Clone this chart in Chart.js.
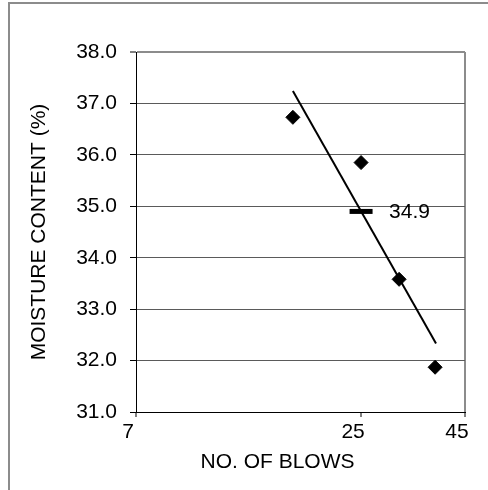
<!DOCTYPE html>
<html>
<head>
<meta charset="utf-8">
<script src="https://cdn.jsdelivr.net/npm/chart.js@4"></script>
<style>
  body { margin: 0; background: #fff; overflow: hidden; }
  #wrap { position: relative; width: 488px; height: 490px; }
  #frame { position: absolute; left: 8px; top: 2px; width: 520px; height: 520px;
           border-left: 2px solid #8c8c8c; border-top: 2px solid #8c8c8c; }
  canvas { position: absolute; left: 0; top: 0; }
</style>
</head>
<body>
<div id="wrap">
  <div id="frame"></div>
  <canvas id="chart"></canvas>
</div>
<script>
// datos
var blows = [17, 25, 31, 38];
var moisture = [36.73, 35.85, 33.58, 31.87];

// linea de tendencia (extremos)
var trendBlows = [17, 38.2];
var trendMoisture = [37.24, 32.33];

// punto a 25 golpes
var markerBlows = [25];
var markerMoisture = [34.9];

var xTicks = [7, 25, 45];
var yMin = 31, yMax = 38;

var xTitle = 'NO. OF BLOWS';
var yTitle = 'MOISTURE CONTENT (%)';

var fontFam = "'Liberation Sans', Arial, sans-serif";
var fontSize = 21;

function toPoints(xs, ys) {
    return xs.map(function (x, i) { return { x: x, y: ys[i] }; });
}

// etiqueta del punto a 25 golpes y titulo del eje x
var extraText = {
    id: 'extraText',
    afterDraw: function (chart) {
        var meta = chart.getDatasetMeta(0);
        var area = chart.chartArea;
        var ctx = chart.ctx;
        ctx.save();
        ctx.font = fontSize + 'px ' + fontFam;
        ctx.fillStyle = '#000';
        ctx.textAlign = 'left';
        ctx.textBaseline = 'middle';
        meta.data.forEach(function (el, i) {
            ctx.fillText(markerMoisture[i].toFixed(1), el.x + 28, el.y + 1);
        });
        // el titulo esta un poco corrido a la izquierda en el original
        ctx.textAlign = 'center';
        ctx.fillText(xTitle, area.left + (area.right - area.left) * 0.43, chart.height - 28);
        ctx.restore();
    }
};

var ctx = document.getElementById('chart');
var myChart = new Chart(ctx, {
    type: 'scatter',
    data: {
        datasets: [
            {
                label: 'marker',
                data: toPoints(markerBlows, markerMoisture),
                pointStyle: 'line',
                pointRadius: 11.5,
                pointBorderWidth: 5,
                borderColor: '#000',
                backgroundColor: '#000'
            },
            {
                label: 'trend',
                data: toPoints(trendBlows, trendMoisture),
                showLine: true,
                pointRadius: 0,
                borderColor: '#000',
                borderWidth: 2
            },
            {
                label: 'data',
                data: toPoints(blows, moisture),
                pointStyle: 'rectRot',
                pointRadius: 7,
                pointBorderWidth: 1,
                borderColor: '#000',
                backgroundColor: '#000'
            }
        ]
    },
    options: {
        responsive: true,
        maintainAspectRatio: false,
        animation: false,
        layout: { padding: { left: 0, top: 52, right: 23, bottom: 0 } },
        plugins: {
            legend: { display: false },
            tooltip: { enabled: false }
        },
        scales: {
            x: {
                type: 'logarithmic',
                min: 7,
                max: 45,
                afterBuildTicks: function (scale) {
                    scale.ticks = xTicks.map(function (v) { return { value: v }; });
                },
                afterFit: function (scale) { scale.height = 78; },
                ticks: {
                    color: '#000',
                    font: { size: fontSize, family: fontFam },
                    padding: 3,
                    labelOffset: -8,
                    maxRotation: 0,
                    autoSkip: false,
                    callback: function (value) { return String(value); }
                },
                grid: {
                    drawOnChartArea: true,
                    color: function (c) { return c.tick && c.tick.value === 45 ? '#8c8c8c' : 'rgba(0,0,0,0)'; },
                    lineWidth: 2,
                    tickColor: '#000',
                    tickLength: 5,
                    tickWidth: 1
                },
                border: { color: '#000', width: 1 },
                title: { display: false }
            },
            y: {
                min: yMin,
                max: yMax,
                afterFit: function (scale) { scale.width = 136; },
                ticks: {
                    stepSize: 1,
                    color: '#000',
                    font: { size: fontSize, family: fontFam },
                    padding: 13,
                    callback: function (value) { return value.toFixed(1); }
                },
                grid: {
                    color: function (c) { return c.tick && c.tick.value === yMax ? '#8c8c8c' : '#5a5a5a'; },
                    lineWidth: function (c) { return c.tick && c.tick.value === yMax ? 2 : 1; },
                    tickColor: '#000',
                    tickLength: 6,
                    tickWidth: 1
                },
                border: { color: '#000', width: 1 },
                title: {
                    display: true,
                    text: yTitle,
                    color: '#000',
                    font: { size: fontSize, family: fontFam },
                    padding: { top: 27, bottom: 0 }
                }
            }
        }
    },
    plugins: [extraText]
});
</script>
</body>
</html>
